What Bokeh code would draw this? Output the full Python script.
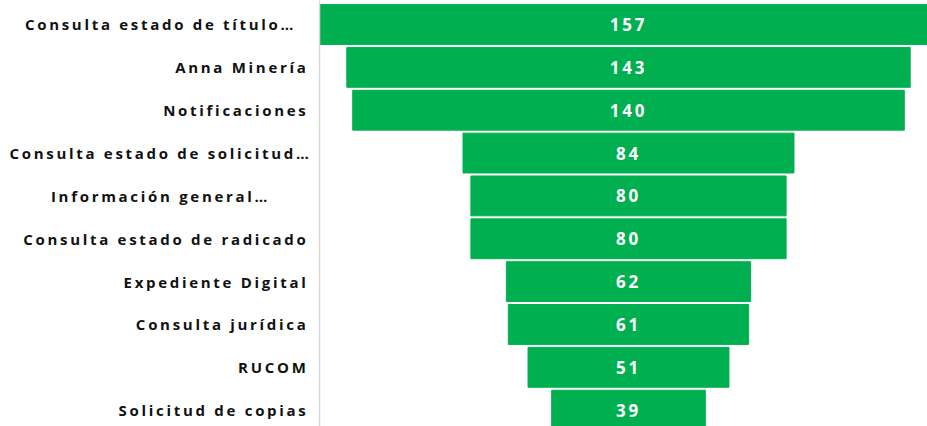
from bokeh.plotting import figure
from bokeh.models import Range1d, FixedTicker, ColumnDataSource, CDSView, IndexFilter
from bokeh.core.properties import value
from bokeh.embed import file_html
from bokeh.resources import INLINE

categories = [
    "Consulta estado de título…",
    "Anna Minería",
    "Notificaciones",
    "Consulta estado de solicitud…",
    "Información general…",
    "Consulta estado de radicado",
    "Expediente Digital",
    "Consulta jurídica",
    "RUCOM",
    "Solicitud de copias",
]
values = [157, 143, 140, 84, 80, 80, 62, 61, 51, 39]

SPACING = 2.7  # css letter-spacing, px
rows = list(range(len(categories)))
truncated = [i for i, c in enumerate(categories) if c.endswith("…")]
full = [i for i, c in enumerate(categories) if not c.endswith("…")]

src = ColumnDataSource(dict(
    y=rows,
    left=[-v / 2 for v in values],
    right=[v / 2 for v in values],
    label=[str(v) for v in values],
    cat=categories,
    # compensate the css letter-spacing that bokeh's text measurement ignores
    rightoff=[-(11 + SPACING * len(c)) for c in categories],
    centeroff=[-(159 + SPACING * len(c) / 2) for c in categories],
    numoff=[-SPACING * len(str(v)) / 2 for v in values],
))

XL, XR = -78.43, 75.89
p = figure(width=927, height=426, output_backend="svg", toolbar_location=None,
           x_range=Range1d(XL, XR), y_range=Range1d(9.381, -0.56),
           min_border_left=319, min_border_right=0, min_border_top=0, min_border_bottom=0)
p.stylesheets = [":host { letter-spacing: %spx; }" % SPACING]

p.hbar(y="y", left="left", right="right", height=0.93, color="#00B050", source=src)
p.text(x=0, y="y", text="label", x_offset="numoff", source=src, text_align="center",
       text_baseline="middle", text_color="white", text_font=value("Open Sans"),
       text_font_style="bold", text_font_size="17px")

label_style = dict(text_baseline="middle", text_color="#111111", text_font=value("Open Sans"),
                   text_font_style="bold", text_font_size="15px")
r1 = p.text(x=XL, y="y", text="cat", x_offset="rightoff", source=src,
            view=CDSView(filter=IndexFilter(full)), text_align="right", **label_style)
r2 = p.text(x=XL, y="y", text="cat", x_offset="centeroff", source=src,
            view=CDSView(filter=IndexFilter(truncated)), text_align="center", **label_style)
r1.level = "annotation"
r2.level = "annotation"

p.xaxis.visible = False
p.xgrid.visible = False
p.ygrid.visible = False
p.outline_line_color = None

ya = p.yaxis[0]
ya.ticker = FixedTicker(ticks=[])
ya.major_label_text_font_size = "0px"
ya.major_tick_line_color = None
ya.minor_tick_line_color = None
ya.axis_line_color = "#d9d9d9"
ya.axis_line_width = 1.5

open("out.html", "w").write(file_html(p, INLINE))
